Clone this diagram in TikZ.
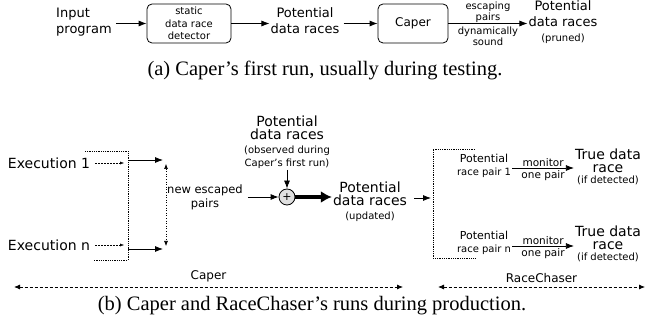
\documentclass[tikz,border=0pt]{standalone}
\usepackage{fontspec}
\setmainfont{Liberation Serif}
\setsansfont{DejaVu Sans}
\usetikzlibrary{arrows.meta}
\tikzset{
  txt/.style={font=\sffamily\fontsize{13}{16}\selectfont,align=center,inner sep=1pt},
  big/.style={font=\sffamily\fontsize{14}{13.5}\selectfont,align=center,inner sep=1pt},
  sml/.style={font=\sffamily\fontsize{10}{12.5}\selectfont,align=center,inner sep=1pt},
  capt/.style={font=\rmfamily\fontsize{20.5}{24}\selectfont,inner sep=0pt},
  blk/.style={draw,rounded corners=5pt,line width=0.8pt,minimum height=39pt,sml},
  arr/.style={-{Latex[length=8pt,width=6pt]},line width=0.8pt},
  fat/.style={-{Latex[length=11pt,width=12pt]},line width=4pt},
  darr/.style={-{Latex[length=4pt,width=3pt]},line width=0.4pt,dash pattern=on 2pt off 1pt},
  brk/.style={line width=0.8pt,densely dotted},
  span/.style={{Latex[length=6pt,width=5pt]}-{Latex[length=6pt,width=5pt]},line width=0.8pt,densely dashed}
}
\newcommand{\sm}{\fontsize{10}{12}\selectfont}
\begin{document}
\begin{tikzpicture}[x=1pt,y=-1pt]
  \useasboundingbox (0,0) rectangle (647,328);
  \node[txt,align=left,anchor=west] (inp) at (55,22) {Input\\program};
  \node[blk,minimum width=84pt] (det) at (189,23.5) {static\\data race\\detector};
  \node[txt] (pot1) at (305,21) {Potential\\data races};
  \node[blk,minimum width=70pt,font=\sffamily\fontsize{12}{14}\selectfont] (caper) at (413,23.5) {Caper};
  \node[txt,font=\sffamily\fontsize{13}{15.5}\selectfont] (out1) at (563,22.5) {Potential\\data races\\{\sm(pruned)}};
  \draw[arr,shorten <=3pt] (inp.east |- det.west) -- (det.west);
  \draw[arr] (det.east) -- (det.east -| pot1.west);
  \draw[arr,shorten <=3pt] (pot1.east |- caper.west) -- (caper.west);
  \draw[arr] (caper.east) -- node[sml,above=0pt,font=\sffamily\fontsize{10}{10.5}\selectfont] {escaping\\pairs} node[sml,below=2pt,font=\sffamily\fontsize{10}{11.5}\selectfont] {dynamically\\sound} (caper.east -| out1.west);
  \node[capt] (capa) at (325,70) {(a) Caper's first run, usually during testing.};

  \node[big] (obs) at (287,142) {Potential\\data races\\{\sm(observed during}\\{\sm Caper's first run)}};
  \node[draw,circle,fill=gray!25,line width=0.8pt,minimum size=16pt,inner sep=0pt,font=\sffamily\fontsize{11}{11}\selectfont] (plus) at (287,197) {+};
  \node[txt,font=\sffamily\fontsize{11.5}{14}\selectfont] (esc) at (205,197) {new escaped\\pairs};
  \node[big] (upd) at (370,201.5) {Potential\\data races\\{\sm(updated)}};
  \draw[arr] (obs.south) -- (plus.north);
  \draw[arr,shorten <=4pt] (esc.east) -- (plus.west);
  \draw[fat] (plus.east) -- (plus.east -| upd.west);

  \node[big,font=\sffamily\fontsize{14}{13.5}\selectfont] (ex1) at (49,163) {Execution 1};
  \node[big,font=\sffamily\fontsize{14}{13.5}\selectfont] (exn) at (49,245) {Execution n};
  \coordinate (lbr) at (124,0);
  \draw[brk] (85,151) -- (128,151) -- (128,260) -- (93,260);
  \draw[darr,shorten <=4pt] (ex1.east) -- (ex1.east -| lbr);
  \draw[darr,shorten <=4pt] (exn.east) -- (exn.east -| lbr);
  \coordinate (o1) at (128,160);
  \coordinate (e1) at (163,160);
  \coordinate (on) at (128,249);
  \coordinate (en) at (163,249);
  \draw[arr] (o1) -- (e1);
  \draw[arr] (on) -- (en);
  \coordinate (v1) at (166,164);
  \coordinate (vn) at (166,246);
  \draw[{Latex[length=5pt,width=4pt]}-{Latex[length=5pt,width=4pt]},line width=0.6pt,dotted] (v1) -- (vn);

  \coordinate (rb) at (431,198);
  \draw[brk] (475,149) -- (433,149) -- (433,258) -- (475,258);
  \draw[arr,shorten <=6pt] (upd.east |- rb) -- (rb);
  \node[sml,font=\sffamily\fontsize{11}{13}\selectfont] (p1) at (484,165.5) {Potential\\{\sm race pair 1}};
  \node[big,font=\sffamily\fontsize{14}{13}\selectfont] (t1) at (608,167) {True data\\race\\[-2pt]{\sm(if detected)}};
  \node[sml,font=\sffamily\fontsize{11}{13}\selectfont] (pn) at (484,242.5) {Potential\\{\sm race pair n}};
  \node[big,font=\sffamily\fontsize{14}{13}\selectfont] (tn) at (608,243.5) {True data\\race\\[-2pt]{\sm(if detected)}};
  \draw[arr] ([yshift=-2.5pt]p1.east) -- node[sml,above=0pt,font=\sffamily\fontsize{10.5}{12}\selectfont] {monitor} node[sml,below=1pt,font=\sffamily\fontsize{10.5}{12}\selectfont] {one pair} ([yshift=-2.5pt]p1.east -| t1.west);
  \draw[arr] ([yshift=-3.5pt]pn.east) -- node[sml,above=0pt,font=\sffamily\fontsize{10.5}{12}\selectfont] {monitor} node[sml,below=1pt,font=\sffamily\fontsize{10.5}{12}\selectfont] {one pair} ([yshift=-3.5pt]pn.east -| tn.west);

  \coordinate (cl) at (14,287);
  \coordinate (cr) at (403,287);
  \coordinate (rl) at (438,287);
  \coordinate (rr) at (645,287);
  \draw[span] (cl) -- node[above=1pt,font=\sffamily\fontsize{12}{14}\selectfont] (lcap) {Caper} (cr);
  \draw[span] (rl) -- node[above=1pt,font=\sffamily\fontsize{12}{14}\selectfont] (lrc) {RaceChaser} (rr);
  \node[capt] (capb) at (312,306) {(b) Caper and RaceChaser's runs during production.};
\end{tikzpicture}
\end{document}
